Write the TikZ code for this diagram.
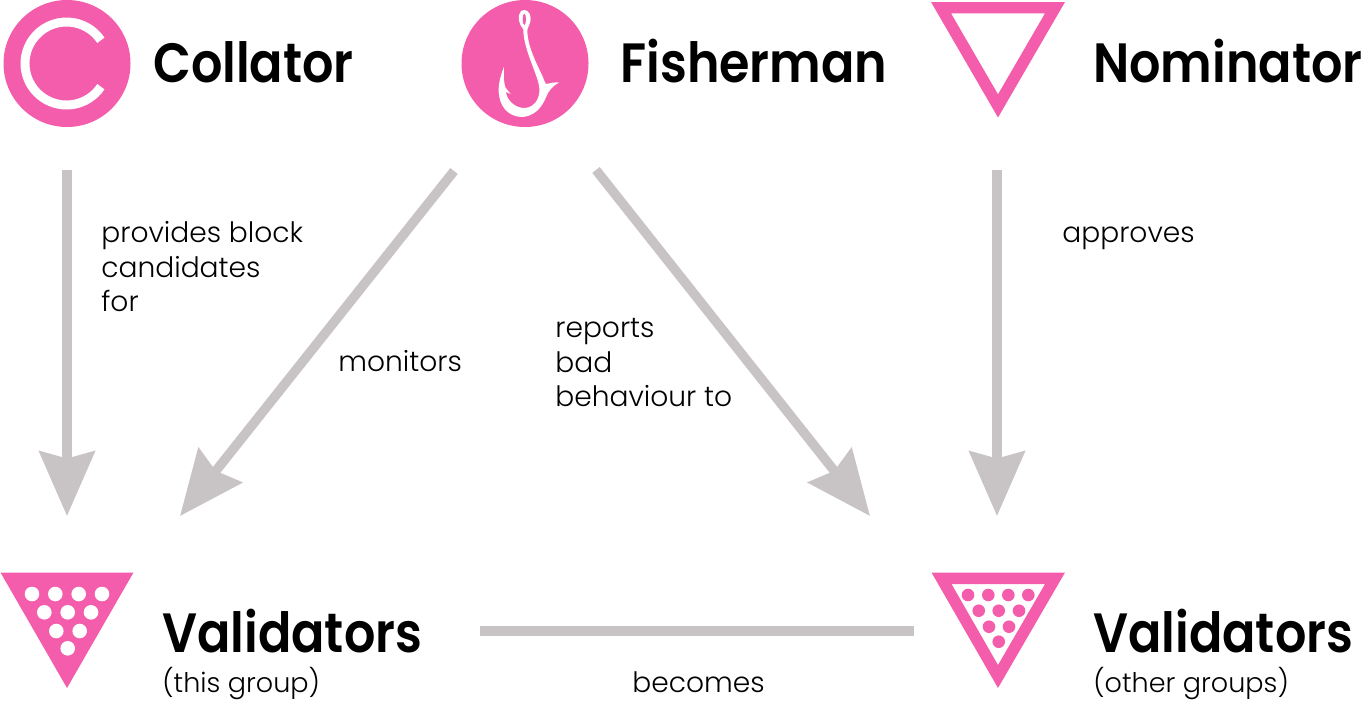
\documentclass[tikz,border=0pt]{standalone}
\usepackage{fontspec}
\setmainfont{Poppins Light}[BoldFont={Poppins SemiBold}, BoldFeatures={FakeStretch=0.89}]
\usetikzlibrary{arrows.meta}
\begin{document}
\begin{tikzpicture}[x=0.02cm, y=-0.02cm,
        title/.style={anchor=base west, inner sep=0pt, font=\fontsize{31.5}{31.5}\selectfont\bfseries},
        note/.style={anchor=base west, inner sep=0pt, align=left, font=\fontsize{16}{19.6}\selectfont},
        groupnote/.style={anchor=base west, inner sep=0pt, font=\fontsize{15.4}{19}\selectfont},
        flow/.style={draw=linkcolor, line width=5.4pt, -{Stealth[length=1.29cm, width=1.1cm, inset=0.14cm]}}]
        % -- colour definitions --------------------------------------------------
        \definecolor{rolecolor}{RGB}{243,93,172}
        \definecolor{linkcolor}{RGB}{200,195,196}
        \useasboundingbox (0,0) rectangle (1365,700);

        % -- collator -------------------------------------------------------------
        \fill[rolecolor] (67,63.5) circle (63.5);
        \draw[white, line width=5.1pt] (66.5,63.5) ++(34:41.5) arc (34:326:41.5);
        \node[title] (collator) at (153,82.5) {Collator};

        % -- fisherman ------------------------------------------------------------
        \fill[rolecolor] (525,63.5) circle (63.5);
        \begin{scope}[shift={(440,0)}, scale=1/3]
            \fill[white] (250,88) .. controls (236,72) and (230,48) .. (243,33)
                .. controls (255,24) and (272,35) .. (272,55)
                .. controls (272,70) and (264,80) .. (262,90)
                .. controls (262,140) and (290,190) .. (308,230)
                .. controls (314,245) and (316,250) .. (318,252)
                .. controls (330,250) and (345,245) .. (358,248)
                .. controls (335,258) and (325,275) .. (318,292)
                .. controls (305,325) and (280,350) .. (245,351)
                .. controls (205,350) and (178,320) .. (176,275)
                .. controls (175,245) and (185,220) .. (192,200)
                .. controls (190,225) and (192,250) .. (196,262)
                -- (212,282) -- (198,276)
                .. controls (200,300) and (225,325) .. (255,324)
                .. controls (280,322) and (300,300) .. (298,265)
                .. controls (295,225) and (250,150) .. (250,88) -- cycle;
            \fill[rolecolor] (253,58) ellipse (5 and 17);
        \end{scope}
        \node[title] (fisherman) at (620,82.5) {Fisherman};

        % -- nominator ------------------------------------------------------------
        \fill[rolecolor, even odd rule] (931,2) -- (1065,2) -- (998,117.5) -- cycle
            (951,13.3) -- (1045,13.3) -- (998,94.3) -- cycle;
        \node[title] (nominator) at (1093,82.5) {Nominator};

        % -- validators (this group) ----------------------------------------------
        \fill[rolecolor] (0.5,572.5) -- (133.5,572.5) -- (67,688) -- cycle;
        \foreach \px/\py in {32/594, 55.3/594, 78.7/594, 102/594, 44.3/612.3, 67.7/612.3,
                91/612.3, 56.3/631, 79.7/631, 67.7/648.3} {
            \fill[white] (\px,\py) circle (7.3);
        }
        \node[title] (validators) at (162,652.5) {Validators};
        \node[groupnote] (thisgroup) at (162,692) {(this group)};

        % -- validators (other groups) --------------------------------------------
        \fill[rolecolor, even odd rule] (931.5,572.5) -- (1065,572.5) -- (998,688) -- cycle
            (951.5,584) -- (1045,584) -- (998,665) -- cycle;
        \foreach \px/\py in {968/595, 988.3/595, 1008.3/595, 1028.3/595, 978.7/610.7,
                998.7/610.7, 1019/610.7, 989/626.7, 1009/626.7, 998.7/641.7} {
            \fill[rolecolor] (\px,\py) circle (6.3);
        }
        \node[title] (othervalidators) at (1093,652.5) {Validators};
        \node[groupnote] (othergroups) at (1093,692) {(other groups)};

        % -- connector ends -------------------------------------------------------
        \coordinate (collatorout) at (67,170);
        \coordinate (collatorin) at (67,516);
        \coordinate (monitorout) at (454,171);
        \coordinate (monitorin) at (180,516);
        \coordinate (reportout) at (596,170);
        \coordinate (reportin) at (870,516);
        \coordinate (nominatorout) at (997,170);
        \coordinate (nominatorin) at (997,516);
        \coordinate (becomesout) at (480,631);
        \coordinate (becomesin) at (914,631);

        % -- connectors -----------------------------------------------------------
        \draw[flow] (collatorout) -- (collatorin);
        \draw[flow] (monitorout) -- (monitorin);
        \draw[flow] (reportout) -- (reportin);
        \draw[flow] (nominatorout) -- (nominatorin);
        \draw[draw=linkcolor, line width=5.7pt] (becomesout) -- (becomesin);

        % -- connector labels -----------------------------------------------------
        \node[note] (providesnote) at (101,311.5) {provides block\\candidates\\for};
        \node[note] (monitorsnote) at (338,371.5) {monitors};
        \node[note] (reportsnote) at (555,406.5) {reports\\bad\\behaviour to};
        \node[note] (approvesnote) at (1062,242.5) {approves};
        \node[note] (becomesnote) at (632,692.5) {becomes};
    \end{tikzpicture}
\end{document}
